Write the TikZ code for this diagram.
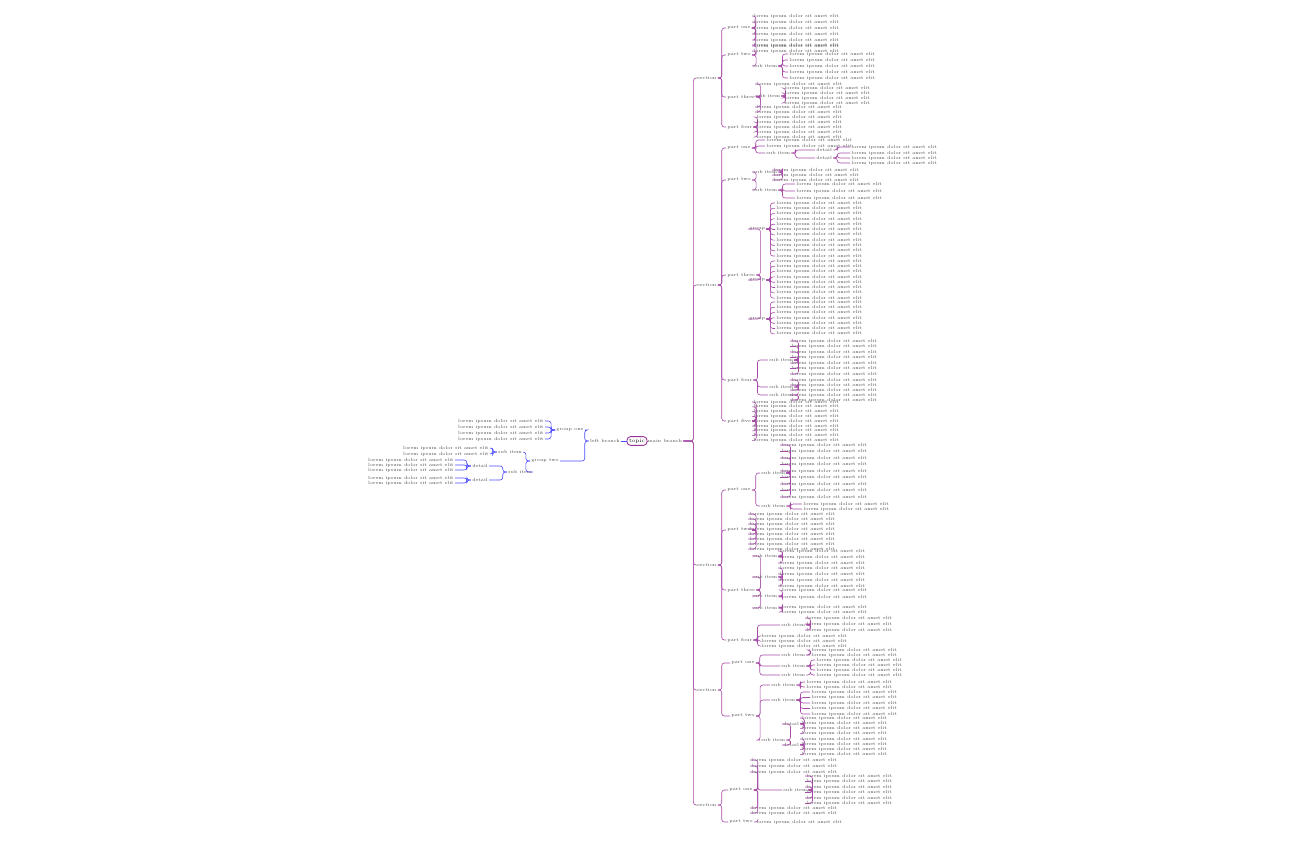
\documentclass[tikz,border=0pt]{standalone}
\usepackage{tikz}
\usetikzlibrary{positioning}
\tikzset{
  branch/.style={inner sep=0.6pt, font=\fontsize{2.6}{3}\selectfont, text=black!70},
  leaf/.style={branch, anchor=west},
  link/.style={draw=violet!70, line width=0.35pt, rounded corners=1.5pt, to path={-- ++(4,0) |- (\tikztotarget)}},
  blink/.style={draw=blue!70, line width=0.35pt, rounded corners=1.5pt, to path={-- ++(-4,0) |- (\tikztotarget)}},
  root/.style={draw=violet!80, rounded corners=2pt, line width=0.5pt, inner sep=1.2pt, font=\fontsize{3}{3.5}\selectfont}
}
% fan of leaves: parent, name, x, first y, step, count
\newcommand\fan[6]{%
  \foreach \i in {1,...,#6}{%
    \node[leaf] (#2\i) at (#3,{#4+(\i-1)*#5}) {lorem ipsum dolor sit amet elit};
    \draw[link] (#1.east) to (#2\i.west);
  }}
\newcommand\lfan[6]{%
  \foreach \i in {1,...,#6}{%
    \node[branch, anchor=east] (#2\i) at (#3,{#4+(\i-1)*#5}) {lorem ipsum dolor sit amet elit};
    \draw[blink] (#1.west) to (#2\i.east);
  }}
\begin{document}
\begin{tikzpicture}[x=0.02cm, y=-0.02cm]
\useasboundingbox (0,0) rectangle (1296,840);
% root and first level
\node[root] (root) at (637,441) {topic};
\node[branch] (main) at (665,441) {main branch};
\draw[link] (root.east) -- (main.west);
\foreach \n/\y in {A/78, B/285, C/565, D/690, E/805}{
  \node[branch, anchor=west] (\n) at (696,\y) {section};
  \draw[link, to path={-- ++(10,0) |- (\tikztotarget)}] (main.east) to (\n.west);
}
% section A
\node[leaf] (A1) at (726,28) {part one};   \draw[link] (A.east) to (A1.west);
\node[leaf] (A2) at (726,55) {part two};   \draw[link] (A.east) to (A2.west);
\node[leaf] (A3) at (726,97) {part three}; \draw[link] (A.east) to (A3.west);
\node[leaf] (A4) at (726,127) {part four}; \draw[link] (A.east) to (A4.west);
\fan{A1}{a}{752}{16}{6}{6}
\fan{A2}{b}{752}{45}{6}{2}
\node[leaf] (A2s) at (752,66) {sub item}; \draw[link] (A2.east) to (A2s.west);
\fan{A2s}{c}{788}{54}{6}{5}
\fan{A3}{d}{755}{84}{6}{1}
\node[leaf] (A3s) at (755,96) {sub item}; \draw[link] (A3.east) to (A3s.west);
\fan{A3s}{e}{783}{88}{5}{4}
\fan{A3}{f}{755}{107}{5}{2}
\fan{A4}{g}{755}{117}{5}{5}
% section B
\node[leaf] (B1) at (726,148) {part one};   \draw[link] (B.east) to (B1.west);
\node[leaf] (B2) at (726,180) {part two};   \draw[link] (B.east) to (B2.west);
\node[leaf] (B3) at (726,275) {part three}; \draw[link] (B.east) to (B3.west);
\node[leaf] (B4) at (726,380) {part four};  \draw[link] (B.east) to (B4.west);
\node[leaf] (B5) at (726,421) {part five};  \draw[link] (B.east) to (B5.west);
\fan{B1}{h}{765}{140}{6}{2}
\node[leaf] (B1s) at (765,153) {sub item}; \draw[link] (B1.east) to (B1s.west);
\node[leaf] (B1t) at (815,150) {detail}; \draw[link] (B1s.east) to (B1t.west);
\node[leaf] (B1u) at (815,158) {detail}; \draw[link] (B1s.east) to (B1u.west);
\fan{B1t}{i}{850}{147}{5}{1}
\fan{B1u}{j}{850}{153}{5}{3}
\node[leaf] (B2a) at (752,172) {sub item}; \draw[link] (B2.east) to (B2a.west);
\node[leaf] (B2b) at (752,190) {sub item}; \draw[link] (B2.east) to (B2b.west);
\fan{B2a}{k}{772}{170}{5}{3}
\fan{B2b}{l}{795}{184}{7}{3}
\node[leaf] (B3a) at (748,229) {group}; \draw[link] (B3.east) to (B3a.west);
\node[leaf] (B3b) at (748,280) {group}; \draw[link] (B3.east) to (B3b.west);
\node[leaf] (B3c) at (748,319) {group}; \draw[link] (B3.east) to (B3c.west);
\fan{B3a}{m}{775}{203}{5.3}{11}
\fan{B3b}{n}{775}{261}{5.3}{8}
\fan{B3c}{o}{775}{302}{5.3}{7}
\node[leaf] (B4a) at (768,360) {sub item}; \draw[link] (B4.east) to (B4a.west);
\node[leaf] (B4b) at (768,387) {sub item}; \draw[link] (B4.east) to (B4b.west);
\node[leaf] (B4c) at (768,395) {sub item}; \draw[link] (B4.east) to (B4c.west);
\fan{B4a}{p}{790}{341}{5.5}{7}
\fan{B4b}{q}{790}{380}{5}{3}
\fan{B4c}{r}{790}{395}{5}{2}
\fan{B5}{s}{752}{402}{4.8}{9}
% section C
\node[leaf] (C1) at (726,490) {part one};   \draw[link] (C.east) to (C1.west);
\node[leaf] (C2) at (726,530) {part two};   \draw[link] (C.east) to (C2.west);
\node[leaf] (C3) at (726,590) {part three}; \draw[link] (C.east) to (C3.west);
\node[leaf] (C4) at (726,640) {part four};  \draw[link] (C.east) to (C4.west);
\node[leaf] (C1a) at (760,473) {sub item}; \draw[link] (C1.east) to (C1a.west);
\node[leaf] (C1b) at (760,506) {sub item}; \draw[link] (C1.east) to (C1b.west);
\fan{C1a}{t}{780}{445}{6.5}{9}
\fan{C1b}{u}{802}{504}{5}{2}
\fan{C2}{v}{748}{514}{5}{8}
\node[leaf] (C3a) at (752,556) {sub item}; \draw[link] (C3.east) to (C3a.west);
\node[leaf] (C3b) at (752,577) {sub item}; \draw[link] (C3.east) to (C3b.west);
\node[leaf] (C3c) at (752,596) {sub item}; \draw[link] (C3.east) to (C3c.west);
\node[leaf] (C3d) at (752,608) {sub item}; \draw[link] (C3.east) to (C3d.west);
\fan{C3a}{w}{778}{551}{6}{3}
\fan{C3b}{x}{778}{568}{6}{4}
\fan{C3c}{y}{780}{590}{7}{2}
\fan{C3d}{z}{780}{607}{5}{2}
\node[leaf] (C4a) at (780,625) {sub item}; \draw[link] (C4.east) to (C4a.west);
\fan{C4a}{aa}{805}{618}{6}{3}
\fan{C4}{ab}{760}{636}{5}{3}
% section D
\node[leaf] (D1) at (730,663) {part one}; \draw[link] (D.east) to (D1.west);
\node[leaf] (D2) at (730,716) {part two}; \draw[link] (D.east) to (D2.west);
\node[leaf] (D1a) at (780,655) {sub item}; \draw[link] (D1.east) to (D1a.west);
\node[leaf] (D1b) at (780,666) {sub item}; \draw[link] (D1.east) to (D1b.west);
\node[leaf] (D1c) at (780,675) {sub item}; \draw[link] (D1.east) to (D1c.west);
\fan{D1a}{ac}{810}{650}{5}{2}
\fan{D1b}{ad}{815}{660}{5}{3}
\fan{D1c}{ae}{815}{675}{5}{1}
\node[leaf] (D2a) at (770,685) {sub item}; \draw[link] (D2.east) to (D2a.west);
\node[leaf] (D2b) at (770,700) {sub item}; \draw[link] (D2.east) to (D2b.west);
\node[leaf] (D2c) at (760,740) {sub item}; \draw[link] (D2.east) to (D2c.west);
\fan{D2a}{af}{805}{682}{5}{2}
\fan{D2b}{ag}{810}{692}{5.5}{5}
\node[leaf] (D2d) at (782,724) {detail}; \draw[link] (D2c.east) to (D2d.west);
\node[leaf] (D2e) at (782,745) {detail}; \draw[link] (D2c.east) to (D2e.west);
\fan{D2d}{ah}{800}{718}{5.2}{4}
\fan{D2e}{ai}{800}{739}{5.2}{4}
% section E
\node[leaf] (E1) at (728,790) {part one}; \draw[link] (E.east) to (E1.west);
\node[leaf] (E2) at (728,822) {part two}; \draw[link] (E.east) to (E2.west);
\fan{E1}{aj}{750}{760}{6}{3}
\node[leaf] (E1a) at (782,790) {sub item}; \draw[link] (E1.east) to (E1a.west);
\fan{E1a}{ak}{805}{776}{5.5}{6}
\fan{E1}{al}{750}{808}{5}{2}
\fan{E2}{am}{755}{822}{5}{1}
% left side
\node[branch] (L) at (605,441) {left branch};
\draw[blink] (root.west) -- (L.east);
\node[branch] (L1) at (570,430) {group one}; \draw[blink] (L.west) to (L1.east);
\node[branch] (L2) at (545,461) {group two}; \draw[blink] (L.west) to (L2.east);
\lfan{L1}{ba}{545}{421}{6}{4}
\node[branch] (L2a) at (510,452) {sub item}; \draw[blink] (L2.west) to (L2a.east);
\node[branch] (L2b) at (520,472) {sub item}; \draw[blink] (L2.west) to (L2b.east);
\lfan{L2a}{bb}{490}{448}{6}{2}
\node[branch] (L2c) at (480,466) {detail}; \draw[blink] (L2b.west) to (L2c.east);
\node[branch] (L2d) at (480,480) {detail}; \draw[blink] (L2b.west) to (L2d.east);
\lfan{L2c}{bc}{455}{460}{5}{3}
\lfan{L2d}{bd}{455}{478}{5}{2}
\end{tikzpicture}
\end{document}
